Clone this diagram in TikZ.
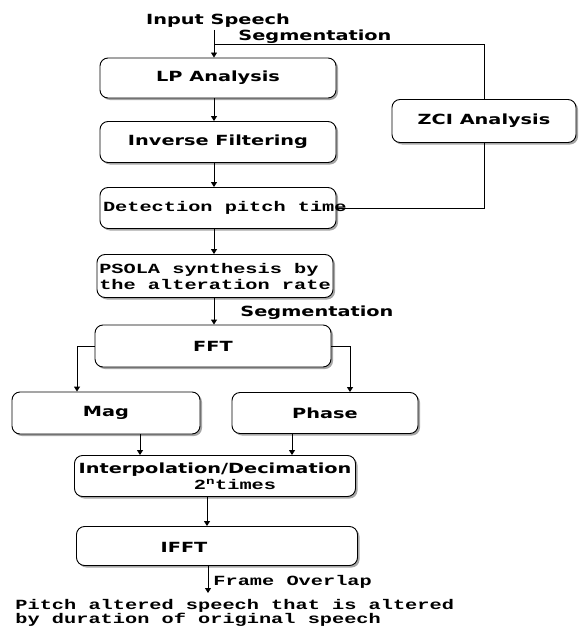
\documentclass[tikz,border=0pt]{standalone}
\usepackage{fontspec}
\newfontfamily\lblfont{DejaVu Sans}[FakeStretch=1.38]
\newfontfamily\typfont{Liberation Mono}[FakeStretch=1.45]
\usetikzlibrary{arrows.meta, shadows}
\tikzstyle{arrow} = [-{Triangle[length=5pt,width=6pt]}]
\tikzstyle{sans} = [font=\fontsize{14}{16}\lblfont\bfseries, inner sep=0pt]
\tikzstyle{mono} = [font=\fontsize{14}{16}\typfont\bfseries, inner sep=0pt]
\tikzstyle{block} = [draw, rounded corners=8pt, fill=white, sans, drop shadow={shadow xshift=2pt, shadow yshift=-2pt, fill=gray!70, opacity=1}]

\begin{document}
\begin{tikzpicture}[x=1pt, y=-1pt, line width=0.9pt]
\useasboundingbox (0,0) rectangle (584,626);
% analysis part
\node[block, minimum width=236pt, minimum height=40pt] (lp) at (218,78) {LP Analysis};
\node[block, minimum width=236pt, minimum height=41pt] (inv) at (218,142) {Inverse Filtering};
\node[block, minimum width=236pt, minimum height=41pt, label={[mono, anchor=west, xshift=3pt]west:Detection pitch time}] (det) at (218,208) {};
\node[block, minimum width=184pt, minimum height=43pt] (zci) at (484,121) {ZCI Analysis};
\node[block, mono, align=left, minimum width=236pt, minimum height=43pt] (psola) at (215,276) {PSOLA synthesis by\\the alteration rate};
% spectral part
\node[block, minimum width=236pt, minimum height=42pt] (fft) at (213,346) {FFT};
\node[block, minimum width=188pt, minimum height=42pt] (mag) at (106,413) {Mag};
\node[block, minimum width=186pt, minimum height=41pt] (phase) at (325,413) {Phase};
\node[block, align=center, minimum width=281pt, minimum height=41pt] (interp) at (215,476) {Interpolation/Decimation\\\hspace*{40pt}{\typfont 2\textsuperscript{n}times}};
\node[block, minimum width=281pt, minimum height=39pt] (ifft) at (217,546) {};
\node[sans] (iffttxt) at (184,547) {IFFT};

% texts
\node[sans] (insp) at (218,21) {Input Speech};
\node[sans, anchor=west] (seg1) at (238,37) {Segmentation};
\node[sans, anchor=west] (seg2) at (240,313) {Segmentation};
\node[mono, anchor=west] (frov) at (213,582) {Frame Overlap};
\node[mono, anchor=north west, align=left, font=\fontsize{14}{13}\typfont\bfseries] (outsp) at (15,599) {Pitch altered speech that is altered\\by duration of original speech};

% connectors
\coordinate (inp) at (214,30);
\coordinate (seg) at (214,44);
\coordinate (magin) at (77,0);
\coordinate (phsin) at (350,0);
\coordinate (magout) at (140,0);
\coordinate (phsout) at (292,0);
\coordinate (mid) at (207,0);
\coordinate (outp) at (208,593);
\draw[arrow] (inp) -- (inp |- lp.north);
\draw (zci.north) |- (seg);
\draw[arrow] (lp.south -| inp) -- (inp |- inv.north);
\draw[arrow] (inv.south -| inp) -- (inp |- det.north);
\draw (zci.south) |- (det.east);
\draw[arrow] (det.south -| inp) -- (inp |- psola.north);
\draw[arrow] (psola.south -| inp) -- (inp |- fft.north);
\draw[arrow] (fft.west) -| (magin |- mag.north);
\draw[arrow] (fft.east) -| (phsin |- phase.north);
\draw[arrow] (magout |- mag.south) -- (magout |- interp.north);
\draw[arrow] (phsout |- phase.south) -- (phsout |- interp.north);
\draw[arrow] (mid |- interp.south) -- (mid |- ifft.north);
\draw[arrow] (outp |- ifft.south) -- (outp);
\end{tikzpicture}
\end{document}
